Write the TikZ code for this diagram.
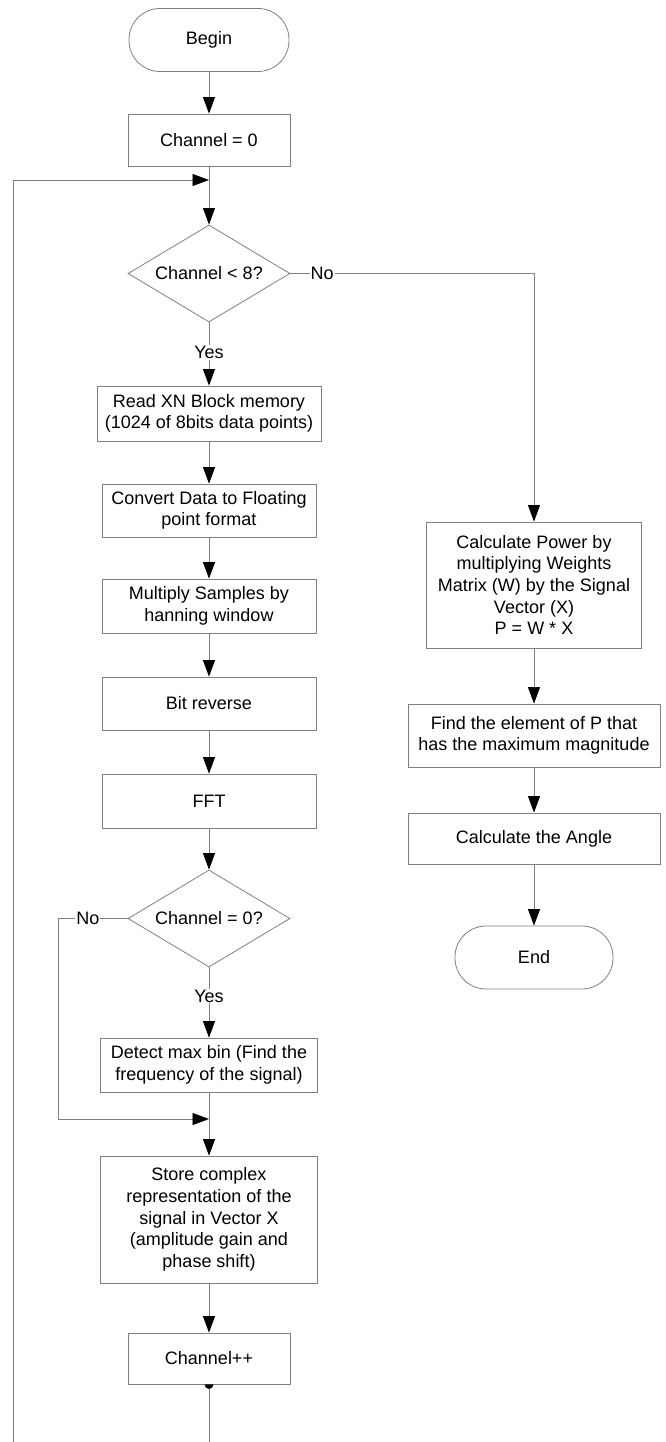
\documentclass[tikz,border=0pt]{standalone}
\usepackage{fontspec}
\setmainfont{Liberation Sans}
\usetikzlibrary{shapes.geometric,arrows.meta}
\definecolor{lg}{RGB}{128,128,128}
\begin{document}
\begin{tikzpicture}[x=1pt,y=-1pt,
  every node/.style={font=\fontsize{18}{21.6}\selectfont, text=black},
  proc/.style={draw=lg, line width=0.8pt, rectangle, inner sep=0pt, align=center},
  term/.style={draw=lg, line width=0.8pt, rectangle, rounded corners=31pt, minimum height=63pt, minimum width=160pt, inner sep=0pt},
  decision/.style={draw=lg, line width=0.8pt, diamond, aspect=1.67, inner sep=0pt, minimum width=162pt, minimum height=97pt},
  conn/.style={draw=lg, line width=0.8pt},
  arr/.style={draw=lg, line width=0.8pt, -{Triangle[length=16.5pt,width=12pt,color=black]}},
  lbl/.style={fill=white, inner sep=1pt}]
\useasboundingbox[fill=white] (0,0) rectangle (665,1442);

% left column
\node[term] (begin) at (209,40) {Begin};
\node[proc, minimum width=162pt, minimum height=52pt] (c0) at (209,140) {Channel = 0};
\node[decision] (d1) at (209,273.5) {Channel < 8?};
\node[proc, minimum width=224pt, minimum height=55pt] (read) at (209,413.5) {Read XN Block memory\\(1024 of 8bits data points)};
\node[proc, minimum width=214pt, minimum height=53pt] (conv) at (209,510.5) {Convert Data to Floating\\point format};
\node[proc, minimum width=214pt, minimum height=54pt] (mult) at (209,606) {Multiply Samples by\\hanning window};
\node[proc, minimum width=214pt, minimum height=53pt] (bitr) at (209,703.5) {Bit reverse};
\node[proc, minimum width=214pt, minimum height=54pt] (fft) at (209,801) {FFT};
\node[decision] (d2) at (209,918.5) {Channel = 0?};
\node[proc, minimum width=217pt, minimum height=54pt] (detect) at (209,1065) {Detect max bin (Find the\\frequency of the signal)};
\node[proc, minimum width=217pt, minimum height=127pt] (store) at (209,1219.5) {Store complex\\representation of the\\signal in Vector X\\(amplitude gain and\\phase shift)};
\node[proc, minimum width=162pt, minimum height=51pt] (cpp) at (209,1358.5) {Channel++};

% right column
\node[proc, minimum width=215pt, minimum height=126pt] (power) at (534,585) {Calculate Power by\\multiplying Weights\\Matrix (W) by the Signal\\Vector (X)\\P = W * X};
\node[proc, minimum width=252pt, minimum height=63pt] (find) at (534,735.5) {Find the element of P that\\has the maximum magnitude};
\node[proc, minimum width=252pt, minimum height=51pt] (angle) at (534,838.5) {Calculate the Angle};
\node[term, minimum width=158pt] (end) at (534,957.5) {End};

% helper coordinates
\coordinate (j1) at (209,180);
\coordinate (l1) at (13.5,180);
\coordinate (lb) at (13.5,1442);
\coordinate (cb) at (209,1442);
\coordinate (j2) at (209,1119);
\coordinate (l2) at (58,1119);

% connectors
\draw[arr] (begin) -- (c0);
\draw[arr] (c0) -- (d1);
\draw[arr] (d1) -- node[lbl, pos=0.48] {Yes} (read);
\draw[arr] (read) -- (conv);
\draw[arr] (conv) -- (mult);
\draw[arr] (mult) -- (bitr);
\draw[arr] (bitr) -- (fft);
\draw[arr] (fft) -- (d2);
\draw[arr] (d2) -- node[lbl, pos=0.41] {Yes} (detect);
\draw[arr] (detect) -- (store);
\draw[arr] (store) -- (cpp);
\draw[arr] (d1.east) -- node[lbl, pos=0.13] {No} (d1.east -| power.north) -- (power.north);
\draw[arr] (power) -- (find);
\draw[arr] (find) -- (angle);
\draw[arr] (angle) -- (end);
\draw[arr] (d2.west) -- node[lbl, pos=0.57] {No} (d2.west -| l2) -- (l2) -- (j2);
\draw[conn] (cpp.south) -- (cb);
\draw[arr] (lb) -- (l1) -- (j1);
\fill (cpp.south) ++(-4.5,0) arc[start angle=180, end angle=0, radius=4.5] -- cycle;
\end{tikzpicture}
\end{document}
